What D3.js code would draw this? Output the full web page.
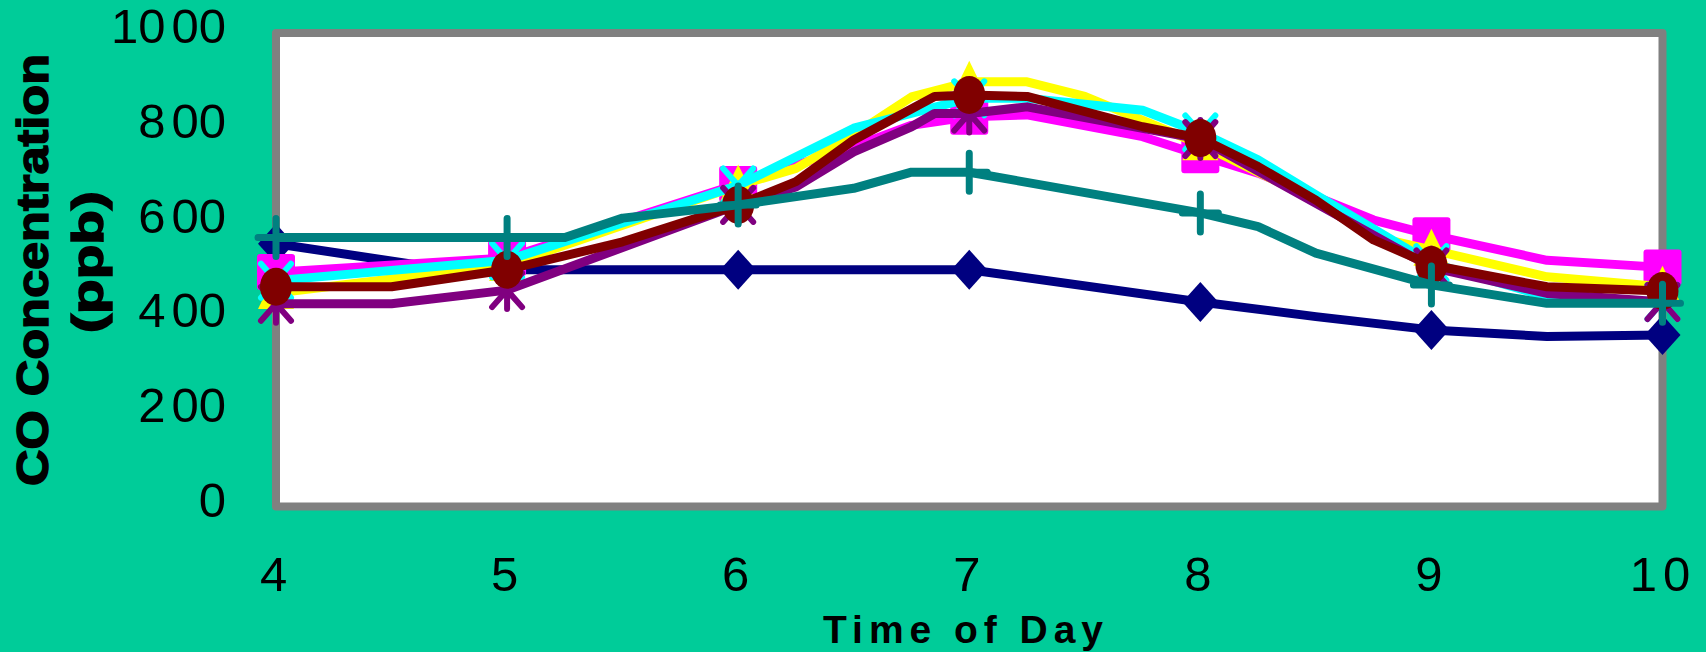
<!DOCTYPE html>
<html>
<head>
<meta charset="utf-8">
<script src="https://cdn.jsdelivr.net/npm/d3@7"></script>
<style>
  html, body { margin: 0; padding: 0; background: #00CC99; }
  svg { display: block; }
</style>
</head>
<body>
<svg id="chart" width="1706" height="652"></svg>
<script>
// Axis ticks
const hourTicks = [4, 5, 6, 7, 8, 9, 10];
const ppbTicks = [0, 200, 400, 600, 800, 1000];

// CO readings for each site: reading time (hour of day) and concentration (ppb)
const navyHours = [4, 4.75, 5, 6, 7, 8, 8.5, 9, 9.5, 10];
const navyPpb   = [555, 500, 500, 500, 500, 432, 401, 373, 359, 362];

const magentaHours = [4, 5, 6, 6.5, 6.75, 7, 7.25, 7.75, 8, 8.25, 8.75, 9, 9.5, 10];
const magentaPpb   = [495, 525, 681, 760, 805, 823, 827, 781, 742, 704, 605, 573, 520, 505];

const yellowHours = [4, 5, 6, 6.25, 6.5, 6.75, 7, 7.25, 7.5, 8, 8.5, 8.75, 9, 9.5, 10];
const yellowPpb   = [451, 510, 678, 714, 785, 865, 897, 897, 866, 765, 647, 570, 542, 485, 464];

const cyanHours = [4, 5, 6, 6.5, 7, 7.25, 7.75, 8, 8.25, 8.5, 9, 9.5, 10];
const cyanPpb   = [477, 520, 678, 799, 862, 862, 837, 790, 732, 658, 514, 443, 432];

const purpleHours = [4, 4.5, 5, 6, 6.25, 6.5, 6.75, 6.85, 7, 7.25, 8, 9, 9.5, 10];
const purplePpb   = [428, 428, 457, 637, 675, 749, 802, 830, 830, 844, 776, 505, 450, 432];

const maroonHours = [4, 4.5, 5, 5.5, 6, 6.25, 6.5, 6.85, 7, 7.25, 7.75, 8, 8.25, 8.5, 8.75, 9, 9.5, 10];
const maroonPpb   = [464, 464, 500, 559, 637, 686, 774, 866, 869, 866, 802, 778, 718, 647, 563, 510, 464, 455];

const tealHours = [4, 5, 5.25, 5.5, 6, 6.5, 6.75, 7, 8, 8.25, 8.5, 9, 9.5, 10];
const tealPpb   = [568, 568, 568, 609, 637, 672, 706, 706, 620, 591, 535, 468, 429, 429];

const series = [
  { hours: navyHours,    ppb: navyPpb,    color: "#000080", marker: "diamond" },
  { hours: magentaHours, ppb: magentaPpb, color: "#FF00FF", marker: "square" },
  { hours: yellowHours,  ppb: yellowPpb,  color: "#FFFF00", marker: "triangle" },
  { hours: cyanHours,    ppb: cyanPpb,    color: "#00FFFF", marker: "cross" },
  { hours: purpleHours,  ppb: purplePpb,  color: "#800080", marker: "asterisk" },
  { hours: maroonHours,  ppb: maroonPpb,  color: "#800000", marker: "circle" },
  { hours: tealHours,    ppb: tealPpb,    color: "#008080", marker: "plus" }
];

const svg = d3.select("#chart");
const W = 1706, H = 652;
const x = d3.scaleLinear().domain([4, 10]).range([276, 1662.5]);
const y = d3.scaleLinear().domain([0, 1000]).range([506.5, 33]);
const FONT = "'Liberation Sans', Arial, Helvetica, sans-serif";

svg.append("rect").attr("width", W).attr("height", H).attr("fill", "#00CC99");

// plot area
svg.append("rect")
  .attr("x", x(4)).attr("y", y(1000))
  .attr("width", x(10) - x(4)).attr("height", y(0) - y(1000))
  .attr("fill", "#ffffff")
  .attr("stroke", "#808080").attr("stroke-width", 8)
  .attr("stroke-linejoin", "round");

// tick labels are set with a small gap inside the number
function gapBefore(sel, at) {
  sel.each(function () {
    const t = d3.select(this);
    const s = t.text();
    const i = at(s);
    if (i > 0 && i < s.length) {
      t.text(null);
      t.append("tspan").text(s.slice(0, i));
      t.append("tspan").attr("dx", 6).text(s.slice(i));
    }
  });
}

const gy = svg.append("g")
  .attr("transform", `translate(${x(4)},0)`)
  .call(d3.axisLeft(y).tickValues(ppbTicks).tickSize(0).tickPadding(50).tickFormat(d3.format("d")));
gy.select(".domain").remove();
gy.attr("font-family", FONT).attr("font-size", 49);
gy.selectAll("text").attr("fill", "#000").attr("dy", "0.2em")
  .call(gapBefore, s => s.length - 2);

const gx = svg.append("g")
  .attr("transform", `translate(-3,${y(0)})`)
  .call(d3.axisBottom(x).tickValues(hourTicks).tickSize(0).tickPadding(50).tickFormat(d3.format("d")));
gx.select(".domain").remove();
gx.attr("font-family", FONT).attr("font-size", 49);
gx.selectAll("text").attr("fill", "#000").call(gapBefore, () => 1);

// axis titles
svg.append("text")
  .attr("transform", "translate(48,270) rotate(-90)")
  .attr("text-anchor", "middle")
  .attr("font-family", FONT).attr("font-size", 45).attr("font-weight", "bold")
  .attr("stroke", "#000").attr("stroke-width", 1.5)
  .attr("textLength", 432).attr("lengthAdjust", "spacingAndGlyphs")
  .text("CO Concentration");
svg.append("text")
  .attr("transform", "translate(103,262) rotate(-90)")
  .attr("text-anchor", "middle")
  .attr("font-family", FONT).attr("font-size", 45).attr("font-weight", "bold")
  .attr("stroke", "#000").attr("stroke-width", 1.5)
  .attr("textLength", 142).attr("lengthAdjust", "spacingAndGlyphs")
  .text("(ppb)");
svg.append("text")
  .attr("x", 963).attr("y", 642.7)
  .attr("text-anchor", "middle")
  .attr("font-family", FONT).attr("font-size", 39).attr("font-weight", "bold")
  .attr("textLength", 280).attr("lengthAdjust", "spacing")
  .text("Time of Day");

// marker shapes
function drawMarker(g, kind, cx, cy, color) {
  const m = g.append("g").attr("transform", `translate(${cx},${cy})`);
  switch (kind) {
    case "diamond":
      m.append("path").attr("d", "M0,-20L18,0L0,20L-18,0Z").attr("fill", color);
      break;
    case "square":
      m.append("rect").attr("x", -19).attr("y", -18).attr("width", 38).attr("height", 36)
        .attr("rx", 3).attr("fill", color);
      break;
    case "triangle":
      m.append("path").attr("d", "M0,-21L18,16L-18,16Z").attr("fill", color);
      break;
    case "cross":
      m.append("path").attr("d", "M-15,-17L15,17M15,-17L-15,17")
        .attr("stroke", color).attr("stroke-width", 6).attr("stroke-linecap", "round");
      break;
    case "asterisk":
      m.append("path").attr("d", "M-15,-17L15,17M15,-17L-15,17M0,-19L0,19")
        .attr("stroke", color).attr("stroke-width", 6).attr("stroke-linecap", "round");
      break;
    case "circle":
      m.append("ellipse").attr("rx", 16).attr("ry", 19).attr("fill", color);
      break;
    case "plus":
      m.append("path").attr("d", "M-18,0L18,0M0,-19L0,19")
        .attr("stroke", color).attr("stroke-width", 7).attr("stroke-linecap", "round");
      break;
  }
}

const line = d3.line().x(d => x(d[0])).y(d => y(d[1]));
const plot = svg.append("g");
series.forEach(s => {
  const pts = d3.zip(s.hours, s.ppb);
  const g = plot.append("g");
  g.append("path")
    .attr("d", line(pts))
    .attr("fill", "none")
    .attr("stroke", s.color)
    .attr("stroke-width", 9)
    .attr("stroke-linejoin", "round");
  pts.filter(p => Number.isInteger(p[0]))
    .forEach(p => drawMarker(g, s.marker, x(p[0]), y(p[1]), s.color));
});
</script>
</body>
</html>
